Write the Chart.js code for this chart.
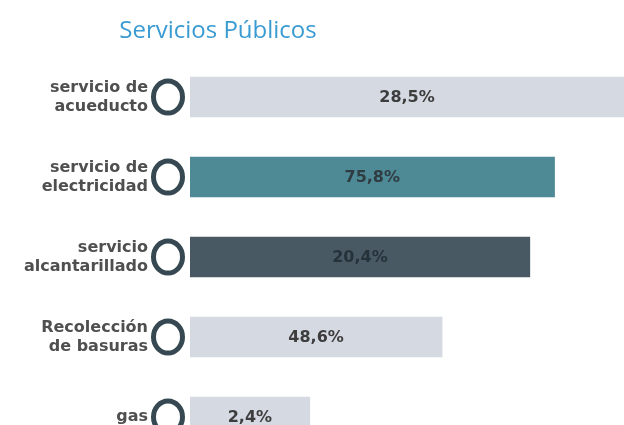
<!DOCTYPE html>
<html><head><meta charset="utf-8">
<script src="https://cdn.jsdelivr.net/npm/chart.js@4.4.1/dist/chart.umd.min.js"></script>
<style>
html,body{margin:0;padding:0;background:#fff;overflow:hidden;}
#wrap{width:624px;height:425px;overflow:hidden;position:relative;}
canvas{display:block;}
</style></head><body>
<div id="wrap"><canvas id="c" width="624" height="458"></canvas></div>
<script>
const titulo = 'Servicios Públicos';
const categorias = [['servicio de','acueducto'],['servicio de','electricidad'],['servicio','alcantarillado'],['Recolección','de basuras'],'gas'];
// percentages written on the bars
const porcentajes = [28.5, 75.8, 20.4, 48.6, 2.4];
// drawn bar lengths (% of plot width)
const longitudBarras = [100, 84, 78.3, 58.1, 27.6];
const coloresBarras = ['#d5d9e2','#4e8a95','#485963','#d5d9e2','#d5d9e2'];
const coloresTexto = ['#3d3d3d','#2f3d42','#263239','#3d3d3d','#3d3d3d'];

function fmt(v){ return v.toFixed(1).replace('.', ',') + '%'; }

const adornos = {
  id: 'adornos',
  afterDatasetsDraw(chart){
    const ctx = chart.ctx;
    const meta = chart.getDatasetMeta(0);
    meta.data.forEach((bar, i) => {
      const p = bar.getProps(['x','y','base'], true);
      ctx.save();
      ctx.beginPath();
      ctx.ellipse(p.base - 22, p.y, 14.5, 16, 0, 0, Math.PI * 2);
      ctx.lineWidth = 5;
      ctx.strokeStyle = '#364851';
      ctx.fillStyle = '#ffffff';
      ctx.fill();
      ctx.stroke();
      ctx.font = 'bold 16px "DejaVu Sans"';
      ctx.fillStyle = coloresTexto[i];
      ctx.textAlign = 'center';
      ctx.textBaseline = 'middle';
      ctx.fillText(fmt(porcentajes[i]), (p.base + p.x) / 2, p.y + 1);
      ctx.restore();
    });
    ctx.save();
    ctx.font = '24px "Open Sans"';
    ctx.fillStyle = '#3a9bd2';
    ctx.textAlign = 'center';
    ctx.textBaseline = 'alphabetic';
    ctx.fillText(titulo, 218, 38);
    ctx.restore();
  }
};

new Chart(document.getElementById('c'), {
  type: 'bar',
  data: {
    labels: categorias,
    datasets: [{
      data: longitudBarras,
      backgroundColor: coloresBarras,
      borderWidth: 0,
      barThickness: 40
    }]
  },
  options: {
    indexAxis: 'y',
    responsive: false,
    animation: false,
    layout: { padding: { top: 57, bottom: 1, left: 0, right: 0 } },
    plugins: { legend: { display: false }, tooltip: { enabled: false }, title: { display: false } },
    scales: {
      x: { display: false, min: 0, max: 100 },
      y: {
        grid: { display: false, drawTicks: false },
        border: { display: false },
        afterFit(scale){ scale.width = 190; scale.paddingTop = 0; scale.paddingBottom = 0; },
        ticks: {
          padding: 42,
          color: '#4f4f4f',
          font: { family: '"DejaVu Sans"', size: 16, weight: 'bold', lineHeight: 1.2 }
        }
      }
    }
  },
  plugins: [adornos]
});
</script>
</body></html>
